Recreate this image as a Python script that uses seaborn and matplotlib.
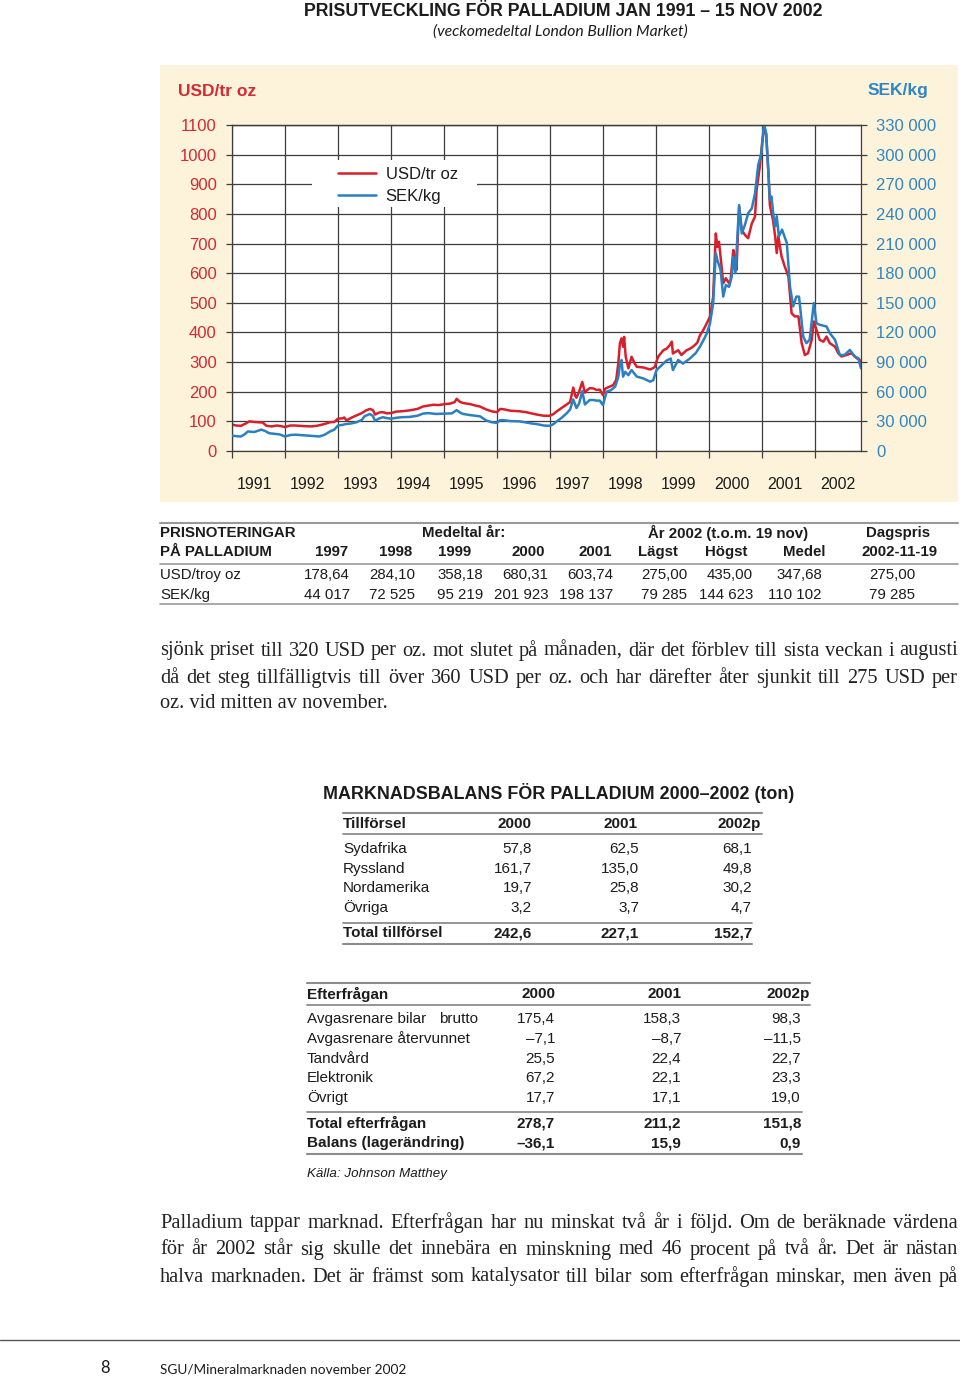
import matplotlib
matplotlib.use("Agg")
import matplotlib.pyplot as plt
import seaborn as sns
from matplotlib.lines import Line2D
from matplotlib.patches import Rectangle

# ---------------- data ----------------
usd_year = [1991.00, 1991.08, 1991.17, 1991.25, 1991.33, 1991.42, 1991.50, 1991.58, 1991.65, 1991.75,
            1991.85, 1991.92, 1992.00, 1992.10, 1992.20, 1992.35, 1992.50, 1992.60, 1992.70, 1992.78,
            1992.85, 1992.93, 1993.00, 1993.08, 1993.12, 1993.16, 1993.25, 1993.35, 1993.45, 1993.52,
            1993.60, 1993.66, 1993.70, 1993.78, 1993.85, 1993.92, 1994.00, 1994.10, 1994.20, 1994.35,
            1994.50, 1994.60, 1994.70, 1994.80, 1994.90, 1995.00, 1995.12, 1995.20, 1995.24, 1995.30,
            1995.36, 1995.50, 1995.60, 1995.68, 1995.80, 1995.90, 1996.00, 1996.06, 1996.12, 1996.25,
            1996.43, 1996.55, 1996.65, 1996.75, 1996.88, 1997.00, 1997.06, 1997.13, 1997.22, 1997.32,
            1997.38, 1997.44, 1997.48, 1997.50, 1997.55, 1997.61, 1997.66, 1997.70, 1997.75, 1997.82,
            1997.88, 1997.94, 1998.00, 1998.04, 1998.10, 1998.19, 1998.25, 1998.29, 1998.32, 1998.35,
            1998.38, 1998.40, 1998.43, 1998.48, 1998.54, 1998.60, 1998.64, 1998.76, 1998.89, 1998.95,
            1998.98, 1999.04, 1999.14, 1999.20, 1999.26, 1999.30, 1999.32, 1999.42, 1999.48, 1999.58,
            1999.64, 1999.70, 1999.78, 1999.83, 1999.90, 1999.96, 2000.02, 2000.08, 2000.13, 2000.16,
            2000.19, 2000.22, 2000.27, 2000.32, 2000.38, 2000.41, 2000.46, 2000.49, 2000.52, 2000.57,
            2000.62, 2000.68, 2000.74, 2000.81, 2000.87, 2000.90, 2000.96, 2001.01, 2001.04, 2001.08,
            2001.12, 2001.15, 2001.18, 2001.21, 2001.25, 2001.28, 2001.31, 2001.37, 2001.43, 2001.50,
            2001.56, 2001.62, 2001.69, 2001.75, 2001.81, 2001.87, 2001.94, 2001.98, 2002.03, 2002.09,
            2002.16, 2002.22, 2002.28, 2002.38, 2002.44, 2002.50, 2002.60, 2002.69, 2002.79, 2002.85,
            2002.87]
usd_value = [89, 86, 85, 92, 100, 98, 97, 96, 85, 83,
             86, 84, 81, 86, 86, 84, 83, 85, 89, 93,
             97, 98, 109, 110, 113, 103, 112, 120, 128, 136,
             142, 138, 123, 130, 131, 127, 128, 133, 134, 137,
             142, 150, 153, 156, 155, 158, 160, 165, 176, 166,
             162, 158, 153, 150, 140, 134, 131, 142, 141, 136,
             134, 131, 127, 123, 119, 119, 124, 134, 145, 157,
             165, 214, 185, 180, 200, 233, 197, 205, 212, 211,
             206, 207, 189, 210, 215, 222, 240, 296, 363, 380,
             352, 385, 318, 279, 318, 295, 284, 282, 275, 280,
             284, 318, 340, 345, 357, 369, 329, 340, 324, 340,
             345, 352, 365, 390, 410, 431, 453, 520, 734, 689,
             706, 656, 566, 583, 566, 577, 678, 656, 611, 824,
             746, 729, 718, 768, 791, 881, 959, 1049, 1085, 1070,
             948, 830, 803, 779, 724, 668, 724, 657, 623, 589,
             465, 454, 454, 364, 324, 330, 375, 437, 409, 375,
             369, 386, 364, 352, 330, 319, 324, 330, 313, 307,
             290]

sek_year = [1991.00, 1991.08, 1991.17, 1991.25, 1991.30, 1991.42, 1991.55, 1991.62, 1991.70, 1991.80,
            1991.90, 1992.00, 1992.10, 1992.20, 1992.35, 1992.50, 1992.60, 1992.65, 1992.75, 1992.85,
            1992.93, 1993.00, 1993.08, 1993.15, 1993.25, 1993.35, 1993.45, 1993.50, 1993.60, 1993.66,
            1993.70, 1993.78, 1993.85, 1993.92, 1994.00, 1994.10, 1994.20, 1994.35, 1994.50, 1994.60,
            1994.70, 1994.85, 1995.00, 1995.15, 1995.24, 1995.30, 1995.36, 1995.50, 1995.68, 1995.80,
            1995.90, 1996.00, 1996.06, 1996.12, 1996.25, 1996.43, 1996.55, 1996.65, 1996.75, 1996.88,
            1997.00, 1997.06, 1997.13, 1997.22, 1997.32, 1997.38, 1997.44, 1997.50, 1997.55, 1997.61,
            1997.66, 1997.75, 1997.82, 1997.88, 1997.94, 1998.00, 1998.07, 1998.15, 1998.23, 1998.29,
            1998.32, 1998.35, 1998.38, 1998.42, 1998.48, 1998.54, 1998.64, 1998.76, 1998.89, 1998.95,
            1999.01, 1999.14, 1999.20, 1999.28, 1999.32, 1999.42, 1999.51, 1999.64, 1999.75, 1999.83,
            1999.90, 1999.96, 2000.02, 2000.08, 2000.13, 2000.16, 2000.22, 2000.27, 2000.32, 2000.38,
            2000.43, 2000.46, 2000.50, 2000.57, 2000.62, 2000.68, 2000.74, 2000.81, 2000.87, 2000.93,
            2000.99, 2001.04, 2001.08, 2001.12, 2001.15, 2001.18, 2001.22, 2001.25, 2001.28, 2001.32,
            2001.38, 2001.47, 2001.53, 2001.59, 2001.65, 2001.70, 2001.78, 2001.84, 2001.90, 2001.98,
            2002.03, 2002.09, 2002.22, 2002.28, 2002.38, 2002.47, 2002.56, 2002.66, 2002.75, 2002.82,
            2002.87]
sek_value = [15600, 15000, 14700, 17400, 19800, 19200, 21600, 20400, 18000, 17400,
             16800, 14700, 16200, 16500, 15900, 15300, 15000, 14700, 16500, 19800,
             21600, 25800, 26400, 27300, 27900, 29100, 31500, 35100, 37500, 35400,
             30600, 33000, 34200, 33300, 32700, 33600, 34200, 34500, 35700, 37800,
             38400, 37500, 37800, 38100, 41400, 39000, 37500, 36300, 35100, 30900,
             29100, 28500, 31200, 31200, 30300, 30000, 28800, 27900, 27300, 25800,
             25500, 27000, 30000, 33600, 38400, 42000, 52200, 43500, 48000, 60600,
             47100, 51600, 51600, 51000, 51000, 46500, 60000, 61500, 65100, 75000,
             87000, 92100, 75300, 80100, 76800, 81900, 75300, 73500, 70200, 71700,
             81900, 88500, 91500, 93600, 81900, 92100, 88500, 93600, 99000, 105600,
             112500, 119100, 129000, 149400, 200100, 193200, 183300, 156300, 168000, 166200,
             176400, 196800, 180000, 249000, 220200, 228900, 240600, 245700, 260700, 289500,
             301200, 331500, 321600, 284400, 254400, 257700, 237600, 227400, 237600, 217200,
             224100, 210600, 166500, 146400, 156300, 156300, 115800, 109200, 112500, 149700,
             129300, 127800, 126000, 119400, 112500, 97200, 97200, 102300, 95700, 93900,
             83700]

year_labels = [str(y) for y in range(1991, 2003)]
usd_ticks = list(range(0, 1101, 100))
sek_ticks = list(range(0, 330001, 30000))
series_labels = ["USD/tr oz", "SEK/kg"]

# price table
price_head1 = ["PRISNOTERINGAR", "Medeltal år:", "År 2002 (t.o.m. 19 nov)", "Dagspris"]
price_head2 = ["PÅ PALLADIUM", "1997", "1998", "1999", "2000", "2001", "Lägst", "Högst", "Medel", "2002-11-19"]
price_rows = ["USD/troy oz", "SEK/kg"]
price_usd = ["178,64", "284,10", "358,18", "680,31", "603,74", "275,00", "435,00", "347,68", "275,00"]
price_sek = ["44 017", "72 525", "95 219", "201 923", "198 137", "79 285", "144 623", "110 102", "79 285"]

# market balance tables
bal_years = ["2000", "2001", "2002p"]
supply_names = ["Sydafrika", "Ryssland", "Nordamerika", "Övriga"]
supply_2000 = [57.8, 161.7, 19.7, 3.2]
supply_2001 = [62.5, 135.0, 25.8, 3.7]
supply_2002 = [68.1, 49.8, 30.2, 4.7]
supply_total = [242.6, 227.1, 152.7]
demand_names = ["Avgasrenare bilar", "Avgasrenare återvunnet", "Tandvård", "Elektronik", "Övrigt"]
demand_2000 = [175.4, -7.1, 25.5, 67.2, 17.7]
demand_2001 = [158.3, -8.7, 22.4, 22.1, 17.1]
demand_2002 = [98.3, -11.5, 22.7, 23.3, 19.0]
demand_total = [278.7, 211.2, 151.8]
balance = [-36.1, 15.9, 0.9]

para1 = ["sjönk priset till 320 USD per oz. mot slutet på månaden, där det förblev till sista veckan i augusti",
         "då det steg tillfälligtvis till över 360 USD per oz. och har därefter åter sjunkit till 275 USD per",
         "oz. vid mitten av november."]
para2 = ["Palladium tappar marknad. Efterfrågan har nu minskat två år i följd. Om de beräknade värdena",
         "för år 2002 står sig skulle det innebära en minskning med 46 procent på två år. Det är nästan",
         "halva marknaden. Det är främst som katalysator till bilar som efterfrågan minskar, men även på"]

# ---------------- style ----------------
sns.set_theme(style="white")
plt.rcParams['font.family'] = ['Liberation Sans', 'DejaVu Sans']

RED = '#d81f2b'
BLUE = '#2a80c0'
RED_T = '#d32a33'
BLUE_T = '#2f86c2'
GRID = '#3d3d3d'
INK = '#1c1c1c'
CREAM = '#fdf3da'

W, H = 960, 1378
fig = plt.figure(figsize=(W / 100, H / 100), dpi=100)
fig.patch.set_facecolor('white')
renderer = fig.canvas.get_renderer()


def fx(x):
    return x / W


def fy(y):
    return 1 - y / H


def txt(x, y, s, ha='left', **kw):
    kw.setdefault('color', INK)
    return fig.text(fx(x), fy(y), s, ha=ha, va='center', **kw)


def fit_text(x, y, s, width, ha='left', **kw):
    t = txt(x, y, s, ha=ha, **kw)
    w = t.get_window_extent(renderer).width
    t.set_fontsize(t.get_fontsize() * width / w)
    return t


def justify(x0, x1, y, line, **kw):
    words = line.split(' ')
    ts = [txt(0, y, w, **kw) for w in words]
    ws = [t.get_window_extent(renderer).width for t in ts]
    gap = (x1 - x0 - sum(ws)) / max(len(words) - 1, 1)
    x = x0
    for t, w in zip(ts, ws):
        t.set_position((fx(x), fy(y)))
        x += w + gap


def natural_width(line, **kw):
    t = txt(0, 0, line, **kw)
    w = t.get_window_extent(renderer).width
    t.remove()
    return w


def hrule(x0, x1, y, color='#999999', lw=1.3):
    fig.add_artist(Line2D([fx(x0), fx(x1)], [fy(y), fy(y)], transform=fig.transFigure,
                          color=color, lw=lw))


def sv(v):
    s = f"{abs(v):.1f}".replace('.', ',')
    return ('–' if v < 0 else '') + s


HEAD = dict(family=['Liberation Sans', 'DejaVu Sans'], fontweight='bold')

# ---------------- titles ----------------
fit_text(563.5, 12, "PRISUTVECKLING FÖR PALLADIUM JAN 1991 – 15 NOV 2002", 517, ha='center',
         fontsize=12, **HEAD)
fit_text(560.5, 32, "(veckomedeltal London Bullion Market)", 254, ha='center',
         family=['Lato', 'DejaVu Sans'], style='italic', fontsize=11)

# cream panel
fig.add_artist(Rectangle((fx(160), fy(502)), (958 - 160) / W, (502 - 65) / H,
                         transform=fig.transFigure, facecolor=CREAM, edgecolor='none', zorder=-5))

# ---------------- chart ----------------
ax = fig.add_axes([fx(232), fy(451), (861 - 232) / W, (451 - 125) / H])
ax.set_facecolor('white')
sns.lineplot(x=usd_year, y=usd_value, ax=ax, color=RED, linewidth=1.8, legend=False)
ax.set_xlim(1991, 2002.87)
ax.set_ylim(0, 1100)
ax.set_xlabel('')
ax.set_ylabel('')

ax2 = ax.twinx()
sns.lineplot(x=sek_year, y=sek_value, ax=ax2, color=BLUE, linewidth=1.8, legend=False)
ax2.set_ylim(0, 330000)
ax2.set_xlim(1991, 2002.87)
ax2.set_ylabel('')
ax2.grid(False)

for a in (ax, ax2):
    for sp in a.spines.values():
        sp.set_color(GRID)
        sp.set_linewidth(0.9)
ax.spines['right'].set_visible(False)
ax2.spines['left'].set_visible(False)
ax2.spines['bottom'].set_visible(False)

ax.set_yticks(usd_ticks)
ax.set_yticklabels([str(v) for v in usd_ticks])
ax.tick_params(axis='y', which='major', left=True, direction='out', length=4, width=0.9,
               color=GRID, labelcolor=RED_T, labelsize=12, pad=7)

years = list(range(1991, 2003))
ax.set_xticks(years)
ax.set_xticklabels([''] * len(years))
ax.set_xticks([y + 0.43 for y in years], minor=True)
ax.set_xticklabels(year_labels, minor=True)
ax.tick_params(axis='x', which='major', bottom=True, direction='out', length=5, width=0.9, color=GRID)
ax.tick_params(axis='x', which='minor', bottom=True, length=0, pad=19, labelsize=11.5, labelcolor=INK)
ax.grid(True, which='major', axis='both', color=GRID, linewidth=0.9)
ax.grid(False, which='minor')

ax2.set_yticks(sek_ticks)
ax2.set_yticklabels([f"{v:,}".replace(',', ' ') for v in sek_ticks])
ax2.tick_params(axis='y', right=True, direction='out', length=4, width=0.9, color=GRID,
                labelcolor=BLUE_T, labelsize=12, pad=7)

txt(178, 92, "USD/tr oz", color=RED_T, fontsize=12.5, fontweight='bold')
txt(868, 91, "SEK/kg", color=BLUE_T, fontsize=12.5, fontweight='bold')

# legend with white box
ax2.add_patch(Rectangle(((312 - 232) / 629, (451 - 207) / 326), (477 - 312) / 629, 47 / 326,
                        transform=ax2.transAxes, facecolor='white', edgecolor='none', zorder=3))
handles = [Line2D([], [], color=RED, lw=1.8), Line2D([], [], color=BLUE, lw=1.8)]
leg = ax2.legend(handles, series_labels, loc='upper left',
                 bbox_to_anchor=((338 - 232) / 629, (451 - 167) / 326),
                 frameon=False, fontsize=12, handlelength=2.3, handletextpad=0.55,
                 labelspacing=0.42, borderpad=0, borderaxespad=0)
leg.set_zorder(5)
for t in leg.get_texts():
    t.set_color(INK)

# ---------------- price table ----------------
hrule(160, 958, 523, lw=1.5)
hrule(160, 958, 564, lw=1.2)
hrule(160, 958, 604, lw=1.2)
tf = dict(fontsize=10.8)
txt(160, 533, price_head1[0], fontweight='bold', **tf)
txt(464, 533, price_head1[1], ha='center', fontweight='bold', **tf)
txt(728, 533, price_head1[2], ha='center', fontweight='bold', **tf)
txt(898, 533, price_head1[3], ha='center', fontweight='bold', **tf)
head_x = [332, 396, 455, 528, 595, 658, 726, 804, 900]
txt(160, 552, price_head2[0], fontweight='bold', **tf)
for x, s in zip(head_x, price_head2[1:]):
    txt(x, 552, s, ha='center', fontweight='bold', **tf)
val_x = [350, 415, 483, 548, 613, 687, 753, 822, 915]
txt(160, 575, price_rows[0], **tf)
txt(160, 595, price_rows[1], **tf)
for x, s in zip(val_x, price_usd):
    txt(x, 575, s, ha='right', **tf)
for x, s in zip(val_x, price_sek):
    txt(x, 595, s, ha='right', **tf)

# ---------------- body text ----------------
serif = dict(family=['Liberation Serif', 'DejaVu Serif'], fontsize=13.5, color='#222222')
justified = para1[:2] + para2
max_w = max(natural_width(l, **serif) for l in justified)
serif['fontsize'] = 13.5 * 790 / max_w

justify(160, 958, 651, para1[0], **serif)
justify(160, 958, 678, para1[1], **serif)
txt(160, 704, para1[2], **serif)

# ---------------- market balance ----------------
fit_text(559, 793, "MARKNADSBALANS FÖR PALLADIUM 2000–2002 (ton)", 468, ha='center',
         fontsize=12, **HEAD)

bf = dict(fontsize=11)
RC = '#8c8c8c'
hrule(343, 762, 813, color=RC, lw=1.5)
hrule(343, 762, 834, color=RC, lw=1.3)
hrule(343, 752, 923, color=RC, lw=1.3)
hrule(343, 752, 944, color=RC, lw=1.5)
txt(343, 824, "Tillförsel", fontweight='bold', **bf)
for x, s in zip([532, 638, 761], bal_years):
    txt(x, 824, s, ha='right', fontweight='bold', **bf)
rows_y = [849, 869, 888, 908]
for i, y in enumerate(rows_y):
    txt(343, y, supply_names[i], **bf)
    for x, col in zip([532, 639, 752], [supply_2000, supply_2001, supply_2002]):
        txt(x, y, sv(col[i]), ha='right', **bf)
txt(343, 933, "Total tillförsel", fontweight='bold', **bf)
for x, v in zip([532, 639, 752], supply_total):
    txt(x, 933, sv(v), ha='right', fontweight='bold', **bf)

hrule(307, 810, 983, color=RC, lw=1.5)
hrule(307, 810, 1005, color=RC, lw=1.3)
hrule(307, 802, 1112, color=RC, lw=1.3)
hrule(307, 802, 1154, color=RC, lw=1.5)
txt(307, 994, "Efterfrågan", fontweight='bold', **bf)
for x, s in zip([555, 681, 810], bal_years):
    txt(x, 994, s, ha='right', fontweight='bold', **bf)
drows_y = [1019, 1039, 1059, 1078, 1098]
for i, y in enumerate(drows_y):
    txt(307, y, demand_names[i], **bf)
    for x, col in zip([555, 681, 801], [demand_2000, demand_2001, demand_2002]):
        txt(x, y, sv(col[i]), ha='right', **bf)
txt(439, 1019, "brutto", **bf)
txt(307, 1123, "Total efterfrågan", fontweight='bold', **bf)
txt(307, 1143, "Balans (lagerändring)", fontweight='bold', **bf)
for x, v, b in zip([555, 681, 801], demand_total, balance):
    txt(x, 1123, sv(v), ha='right', fontweight='bold', **bf)
    txt(x, 1143, sv(b), ha='right', fontweight='bold', **bf)
fit_text(307, 1174, "Källa: Johnson Matthey", 140, style='italic', fontsize=10)

for y, line in zip([1223, 1250, 1277], para2):
    justify(160, 958, y, line, **serif)

# ---------------- footer ----------------
hrule(0, 960, 1340, color='#555555', lw=1.0)
txt(105, 1368, "8", ha='center', family=['Lato', 'DejaVu Sans'], fontsize=12)
fit_text(160, 1370, "SGU/Mineralmarknaden november 2002", 245, family=['Lato', 'DejaVu Sans'], fontsize=10)

fig.savefig("out.png", dpi=100, facecolor='white')
